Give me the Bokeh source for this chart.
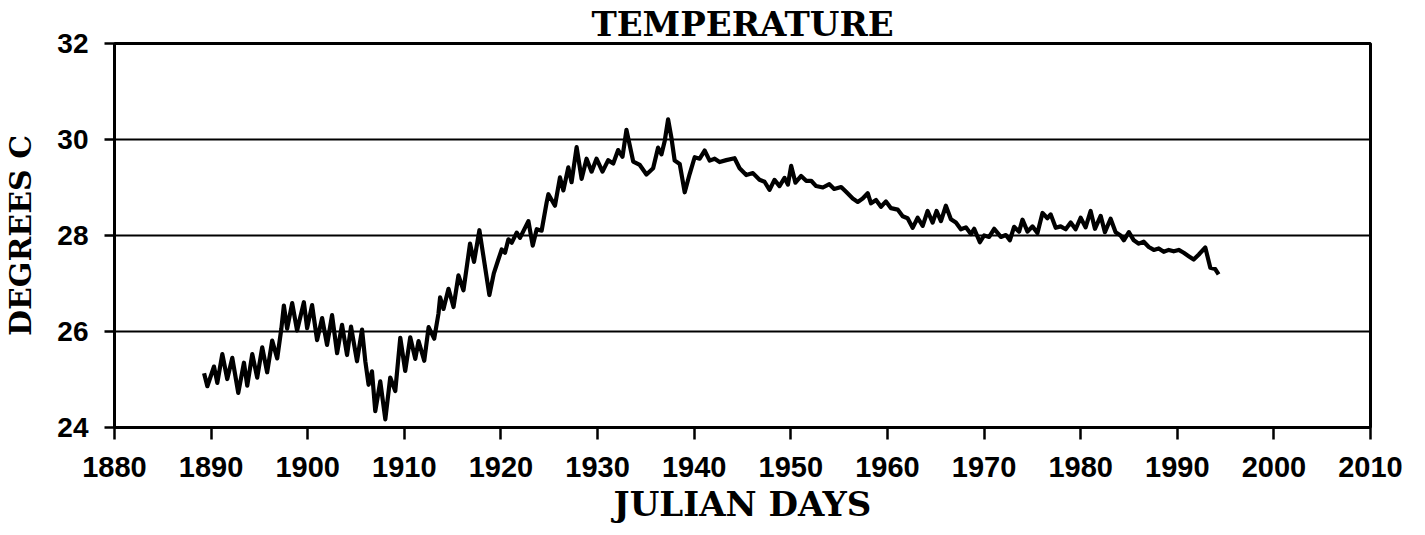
from bokeh.plotting import figure
from bokeh.models import Range1d, FixedTicker
from bokeh.embed import file_html
from bokeh.resources import INLINE

years = [1889.27, 1889.61, 1890.30, 1890.64, 1891.16, 1891.67, 1892.19, 1892.81, 1893.40, 1893.74,
         1894.26, 1894.77, 1895.29, 1895.80, 1896.32, 1896.84, 1897.27, 1897.53, 1897.87, 1898.39,
         1898.90, 1899.60, 1899.94, 1900.45, 1900.97, 1901.49, 1902.00, 1902.52, 1903.04, 1903.55,
         1904.07, 1904.48, 1905.10, 1905.62, 1905.96, 1906.30, 1906.65, 1906.99, 1907.51, 1908.03,
         1908.54, 1909.06, 1909.58, 1910.09, 1910.61, 1911.13, 1911.47, 1912.06, 1912.51, 1913.09,
         1913.53, 1913.70, 1914.05, 1914.57, 1915.09, 1915.60, 1916.12, 1916.80, 1917.21, 1917.77,
         1918.80, 1919.26, 1919.73, 1920.08, 1920.42, 1920.77, 1921.12, 1921.63, 1921.97, 1922.84,
         1923.29, 1923.70, 1924.21, 1924.73, 1924.91, 1925.59, 1926.11, 1926.46, 1926.97, 1927.31,
         1927.83, 1928.35, 1928.86, 1929.38, 1929.89, 1930.51, 1931.10, 1931.62, 1932.13, 1932.58,
         1932.99, 1933.69, 1934.37, 1935.06, 1935.75, 1936.26, 1936.61, 1936.95, 1937.30, 1937.64,
         1937.98, 1938.50, 1939.02, 1939.53, 1940.05, 1940.57, 1941.08, 1941.60, 1942.12, 1942.63,
         1943.32, 1944.18, 1944.70, 1945.39, 1946.08, 1946.76, 1947.28, 1947.80, 1948.31, 1948.83,
         1949.35, 1949.70, 1950.04, 1950.48, 1951.07, 1951.59, 1952.11, 1952.62, 1953.32, 1953.99,
         1954.49, 1955.21, 1955.72, 1956.41, 1956.93, 1957.44, 1957.96, 1958.30, 1958.82, 1959.33,
         1959.85, 1960.37, 1961.06, 1961.58, 1962.09, 1962.61, 1963.13, 1963.65, 1964.16, 1964.68,
         1965.09, 1965.54, 1966.05, 1966.57, 1967.09, 1967.60, 1968.12, 1968.64, 1968.98, 1969.57,
         1970.01, 1970.53, 1971.05, 1971.74, 1972.26, 1972.67, 1973.11, 1973.63, 1973.98, 1974.50,
         1975.01, 1975.53, 1976.05, 1976.56, 1976.90, 1977.42, 1977.93, 1978.45, 1978.97, 1979.48,
         1980.00, 1980.51, 1981.03, 1981.48, 1982.07, 1982.51, 1983.10, 1983.62, 1984.13, 1984.47,
         1984.99, 1985.50, 1986.02, 1986.53, 1987.05, 1987.57, 1988.08, 1988.60, 1989.12, 1989.63,
         1990.15, 1990.67, 1991.18, 1991.70, 1992.21, 1992.90, 1993.42, 1993.93, 1994.28]

temps = [25.13, 24.86, 25.27, 24.93, 25.53, 25.01, 25.45, 24.72, 25.35, 24.87,
         25.53, 25.04, 25.67, 25.15, 25.81, 25.44, 26.06, 26.54, 26.06, 26.59,
         26.02, 26.61, 26.07, 26.55, 25.82, 26.28, 25.72, 26.34, 25.55, 26.14,
         25.51, 26.10, 25.38, 26.04, 25.38, 24.89, 25.17, 24.34, 24.96, 24.17,
         25.04, 24.76, 25.87, 25.18, 25.88, 25.43, 25.80, 25.39, 26.09, 25.85,
         26.37, 26.71, 26.47, 26.89, 26.51, 27.17, 26.86, 27.83, 27.45, 28.11,
         26.76, 27.21, 27.50, 27.71, 27.64, 27.92, 27.85, 28.06, 27.95, 28.30,
         27.79, 28.13, 28.10, 28.69, 28.86, 28.62, 29.21, 28.94, 29.42, 29.11,
         29.84, 29.18, 29.60, 29.33, 29.60, 29.33, 29.57, 29.50, 29.78, 29.64,
         30.20, 29.54, 29.47, 29.27, 29.40, 29.83, 29.69, 29.97, 30.42, 30.04,
         29.56, 29.49, 28.90, 29.28, 29.63, 29.60, 29.77, 29.56, 29.60, 29.53,
         29.57, 29.61, 29.40, 29.26, 29.30, 29.16, 29.12, 28.95, 29.16, 29.03,
         29.20, 29.06, 29.45, 29.10, 29.24, 29.14, 29.14, 29.03, 29.00, 29.07,
         28.97, 29.01, 28.91, 28.77, 28.70, 28.77, 28.88, 28.67, 28.74, 28.60,
         28.71, 28.57, 28.54, 28.40, 28.36, 28.16, 28.37, 28.20, 28.51, 28.27,
         28.51, 28.30, 28.62, 28.34, 28.27, 28.13, 28.17, 28.03, 28.14, 27.86,
         28.00, 27.97, 28.14, 27.97, 28.01, 27.90, 28.18, 28.08, 28.33, 28.08,
         28.19, 28.05, 28.47, 28.36, 28.44, 28.16, 28.19, 28.13, 28.27, 28.13,
         28.37, 28.17, 28.51, 28.14, 28.41, 28.07, 28.35, 28.07, 28.00, 27.90,
         28.07, 27.90, 27.83, 27.87, 27.76, 27.70, 27.73, 27.66, 27.70, 27.67,
         27.70, 27.64, 27.57, 27.50, 27.60, 27.75, 27.33, 27.30, 27.19]

x_ticks = [1880, 1890, 1900, 1910, 1920, 1930, 1940, 1950, 1960, 1970, 1980, 1990, 2000, 2010]
y_ticks = [24, 26, 28, 30, 32]

title_text = "TEMPERATURE"
x_label = "JULIAN DAYS"
y_label = "DEGREES C"

p = figure(frame_width=1256, frame_height=384,
           x_range=Range1d(1880, 2010), y_range=Range1d(24, 32),
           output_backend="svg", toolbar_location=None,
           min_border_left=111, min_border_top=43, min_border_right=40, min_border_bottom=5,
           background_fill_color="white", border_fill_color="white")

p.title.text = title_text
p.title.align = "center"
p.title.offset = 14
p.title.text_font = "DejaVu Serif"
p.title.text_font_style = "bold"
p.title.text_font_size = "34px"
p.title.text_color = "black"
p.title.standoff = 0

p.line(years, temps, line_color="black", line_width=4.2, line_join="round")

p.xaxis.ticker = FixedTicker(ticks=x_ticks)
p.yaxis.ticker = FixedTicker(ticks=y_ticks)
p.xaxis.minor_tick_line_color = None
p.yaxis.minor_tick_line_color = None

for ax in (p.xaxis[0], p.yaxis[0]):
    ax.axis_line_color = "black"
    ax.axis_line_width = 3
    ax.major_tick_line_color = "black"
    ax.major_tick_line_width = 2.5
    ax.major_tick_in = 0
    ax.major_label_text_font = "Liberation Sans"
    ax.major_label_text_font_style = "bold"
    ax.major_label_text_color = "black"
    ax.axis_label_text_font = "DejaVu Serif"
    ax.axis_label_text_font_style = "bold"
    ax.axis_label_text_color = "black"

p.xaxis.major_label_text_font_size = "29px"
p.yaxis.major_label_text_font_size = "28px"
p.xaxis.axis_label_text_font_size = "34px"
p.yaxis.axis_label_text_font_size = "30px"

p.xaxis.major_tick_out = 12
p.xaxis.major_label_standoff = 17
p.xaxis.axis_label = x_label
p.xaxis.axis_label_standoff = 4

p.yaxis.major_tick_out = 10
p.yaxis.major_label_standoff = 16
p.yaxis.axis_label = y_label
p.yaxis.axis_label_standoff = 16

p.xgrid.grid_line_color = None
p.ygrid.ticker = FixedTicker(ticks=[26, 28, 30])
p.ygrid.grid_line_color = "black"
p.ygrid.grid_line_width = 2.2
p.ygrid.grid_line_alpha = 1.0

p.outline_line_color = "black"
p.outline_line_width = 3
p.outline_line_alpha = 1.0

open("out.html", "w").write(file_html(p, INLINE))
